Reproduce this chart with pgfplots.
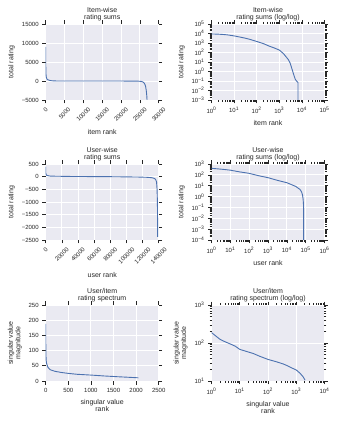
\documentclass[border=0pt]{standalone}
\usepackage{fontspec}
\setmainfont{Liberation Sans}
\usepackage{graphicx}
\usepackage{pgfplots}
\pgfplotsset{compat=1.18}
\definecolor{bgc}{RGB}{234,234,242}
\definecolor{lc}{RGB}{76,114,176}
\definecolor{tc}{RGB}{38,38,38}

\pgfplotsset{
 sb/.style={
  scale only axis, width=113pt, height=76pt,
  axis background/.style={fill=bgc},
  axis line style={draw=none},
  grid=major, major grid style={white, line width=0.8pt},
  tick align=outside, major tick length=3.5pt, minor tick length=2pt,
  every tick/.style={tc, line width=0.6pt},
  tick label style={font=\fontsize{6}{7}\selectfont, text=tc},
  label style={font=\fontsize{7}{7.5}\selectfont, text=tc, align=center},
  title style={font=\fontsize{7}{7}\selectfont, text=tc, align=center, at={(0.5,1)}, anchor=south, inner sep=0pt, yshift=-3.5pt},
  scaled ticks=false,
 },
 ln/.style={draw=lc, line width=0.9pt, no markers},
}

\begin{document}
\begin{tikzpicture}
\useasboundingbox (0pt,0pt) rectangle (338pt,423pt);

% Panel 1
\begin{axis}[sb, at={(45.7pt,399pt)}, anchor=north west,
  title={Item-wise\\rating sums},
  xlabel={item rank}, ylabel={total rating},
  xlabel style={yshift=-1pt},
  xmin=0, xmax=30000, ymin=-5000, ymax=15000,
  xtick={0,5000,10000,15000,20000,25000,30000},
  xticklabels={\rotatebox{45}{0},\rotatebox{45}{5000},\rotatebox{45}{10000},\rotatebox{45}{15000},\rotatebox{45}{20000},\rotatebox{45}{25000},\rotatebox{45}{30000}},
  ytick={-5000,0,5000,10000,15000},
  yticklabels={−5000,0,5000,10000,15000},
]
\addplot[ln] coordinates {
(1,9000) (3,7800) (10,5600) (30,3300) (100,1450) (200,850) (350,480) (600,320)
(1000,180) (1500,80) (2200,22) (3000,6) (4000,1) (6700,0.07) (8000,0)
(12000,-3) (16000,-7) (20000,-12) (23000,-20) (24500,-40) (25300,-100)
(25800,-250) (26200,-600) (26500,-1300) (26700,-2500) (26850,-4000) (26900,-5000)
};
\end{axis}

% Panel 2
\begin{loglogaxis}[sb, at={(211.5pt,399pt)}, anchor=north west,
  title={Item-wise\\rating sums (log/log)},
  xlabel={item rank}, ylabel={total rating},
  xmin=1, xmax=100000, ymin=0.001, ymax=100000,
  minor xtick={2,3,4,5,6,7,8,9,20,30,40,50,60,70,80,90,200,300,400,500,600,700,800,900,2000,3000,4000,5000,6000,7000,8000,9000,20000,30000,40000,50000,60000,70000,80000,90000},
  minor ytick={0.002,0.003,0.004,0.005,0.006,0.007,0.008,0.009,0.02,0.03,0.04,0.05,0.06,0.07,0.08,0.09,0.2,0.3,0.4,0.5,0.6,0.7,0.8,0.9,2,3,4,5,6,7,8,9,20,30,40,50,60,70,80,90,200,300,400,500,600,700,800,900,2000,3000,4000,5000,6000,7000,8000,9000,20000,30000,40000,50000,60000,70000,80000,90000},
  xtick={1,10,100,1000,10000,100000},
  xticklabels={10\textsuperscript{0},10\textsuperscript{1},10\textsuperscript{2},10\textsuperscript{3},10\textsuperscript{4},10\textsuperscript{5}},
  ytick={0.001,0.01,0.1,1,10,100,1000,10000,100000},
  yticklabels={10\textsuperscript{−3},10\textsuperscript{−2},10\textsuperscript{−1},10\textsuperscript{0},10\textsuperscript{1},10\textsuperscript{2},10\textsuperscript{3},10\textsuperscript{4},10\textsuperscript{5}},
]
\addplot[ln] coordinates {
(1,9000) (2,8500) (3,8000) (5,7200) (10,5600) (20,4000) (30,3300) (50,2400)
(100,1450) (200,850) (350,480) (600,300) (1000,180) (1500,80) (2000,35)
(2500,18) (3000,8) (3600,2) (4300,0.5) (5100,0.15) (6000,0.09) (6700,0.07) (6700,0.0005)
};
\end{loglogaxis}

% Panel 3
\begin{axis}[sb, at={(45.7pt,259pt)}, anchor=north west,
  title={User-wise\\rating sums},
  xlabel={user rank}, ylabel={total rating},
  xlabel style={yshift=-1pt},
  xmin=0, xmax=140000, ymin=-2500, ymax=500,
  xtick={0,20000,40000,60000,80000,100000,120000,140000},
  xticklabels={\rotatebox{45}{0},\rotatebox{45}{20000},\rotatebox{45}{40000},\rotatebox{45}{60000},\rotatebox{45}{80000},\rotatebox{45}{100000},\rotatebox{45}{120000},\rotatebox{45}{140000}},
  ytick={-2500,-2000,-1500,-1000,-500,0,500},
  yticklabels={−2500,−2000,−1500,−1000,−500,0,500},
]
\addplot[ln] coordinates {
(1,400) (3,340) (10,270) (100,138) (1000,55) (5000,25) (10000,19) (30000,8.5)
(60000,2.8) (78000,0) (100000,-8) (115000,-15) (125000,-25) (131000,-40)
(134000,-60) (136000,-100) (137300,-200) (138000,-500) (138400,-1000)
(138600,-1700) (138750,-2380)
};
\end{axis}

% Panel 4
\begin{loglogaxis}[sb, at={(211.5pt,259pt)}, anchor=north west,
  title={User-wise\\rating sums (log/log)},
  xlabel={user rank}, ylabel={total rating},
  xmin=1, xmax=1000000, ymin=0.0001, ymax=1000,
  minor xtick={2,3,4,5,6,7,8,9,20,30,40,50,60,70,80,90,200,300,400,500,600,700,800,900,2000,3000,4000,5000,6000,7000,8000,9000,20000,30000,40000,50000,60000,70000,80000,90000,200000,300000,400000,500000,600000,700000,800000,900000},
  minor ytick={0.0002,0.0003,0.0004,0.0005,0.0006,0.0007,0.0008,0.0009,0.002,0.003,0.004,0.005,0.006,0.007,0.008,0.009,0.02,0.03,0.04,0.05,0.06,0.07,0.08,0.09,0.2,0.3,0.4,0.5,0.6,0.7,0.8,0.9,2,3,4,5,6,7,8,9,20,30,40,50,60,70,80,90,200,300,400,500,600,700,800,900},
  xtick={1,10,100,1000,10000,100000,1000000},
  xticklabels={10\textsuperscript{0},10\textsuperscript{1},10\textsuperscript{2},10\textsuperscript{3},10\textsuperscript{4},10\textsuperscript{5},10\textsuperscript{6}},
  ytick={0.0001,0.001,0.01,0.1,1,10,100,1000},
  yticklabels={10\textsuperscript{−4},10\textsuperscript{−3},10\textsuperscript{−2},10\textsuperscript{−1},10\textsuperscript{0},10\textsuperscript{1},10\textsuperscript{2},10\textsuperscript{3}},
]
\addplot[ln] coordinates {
(1,400) (2,360) (5,310) (10,270) (30,190) (100,138) (300,85) (1000,55)
(3000,32) (10000,19) (30000,8.5) (50000,4.5) (60000,2.8) (68000,1.4)
(73000,0.6) (76000,0.25) (78000,0.05) (78000,0.00005)
};
\end{loglogaxis}

% Panel 5
\begin{axis}[sb, at={(45.7pt,118pt)}, anchor=north west,
  title={User/item\\rating spectrum},
  xlabel={singular value\\rank}, ylabel={singular value\\magnitude},
  xmin=0, xmax=2500, ymin=0, ymax=250,
  xtick={0,500,1000,1500,2000,2500},
  xticklabels={0,500,1000,1500,2000,2500},
  ytick={0,50,100,150,200,250},
  yticklabels={0,50,100,150,200,250},
]
\addplot[ln] coordinates {
(1,188) (2,125) (3,108) (5,92) (7,82) (10,68) (15,62) (20,58) (30,53) (50,45)
(100,37) (200,32) (350,28) (500,25) (700,22) (1000,19.5) (1300,16.5)
(1600,14) (1800,12.5) (2050,10.5)
};
\end{axis}

% Panel 6
\begin{loglogaxis}[sb, at={(211.5pt,118pt)}, anchor=north west,
  title={User/item\\rating spectrum (log/log)},
  xlabel={singular value\\rank}, ylabel={singular value\\magnitude},
  xmin=1, xmax=10000, ymin=10, ymax=1000,
  minor xtick={2,3,4,5,6,7,8,9,20,30,40,50,60,70,80,90,200,300,400,500,600,700,800,900,2000,3000,4000,5000,6000,7000,8000,9000},
  minor ytick={20,30,40,50,60,70,80,90,200,300,400,500,600,700,800,900},
  xtick={1,10,100,1000,10000},
  xticklabels={10\textsuperscript{0},10\textsuperscript{1},10\textsuperscript{2},10\textsuperscript{3},10\textsuperscript{4}},
  ytick={10,100,1000},
  yticklabels={10\textsuperscript{1},10\textsuperscript{2},10\textsuperscript{3}},
]
\addplot[ln] coordinates {
(1,188) (2,125) (3,108) (5,92) (7,82) (10,68) (15,62) (20,58) (30,53) (50,45)
(100,37) (200,32) (350,28) (500,25) (700,22) (1000,19.5) (1300,16.5)
(1600,14) (1800,12.5) (2050,10.5)
};
\end{loglogaxis}
\end{tikzpicture}
\end{document}
